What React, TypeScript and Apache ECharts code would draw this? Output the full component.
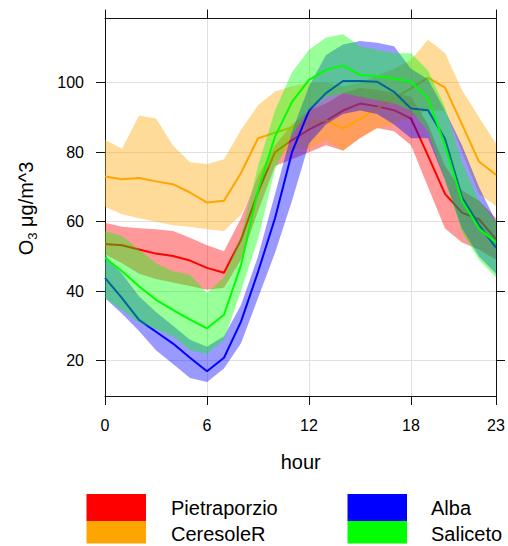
import React, { useEffect, useRef } from "react";
import * as echarts from "echarts";

const hours = [0, 1, 2, 3, 4, 5, 6, 7, 8, 9, 10, 11, 12, 13, 14, 15, 16, 17, 18, 19, 20, 21, 22, 23];
const xTicks = [0, 6, 12, 18, 23];
const yTicks = [20, 40, 60, 80, 100];

const pietraMean = [53.6, 53.2, 52.0, 50.8, 50.1, 48.8, 46.7, 45.3, 54.8, 68.5, 80.0, 83.5, 86.5, 89.0, 92.0, 94.0, 93.2, 92.1, 89.7, 79.0, 68.0, 62.6, 60.7, 55.0];
const pietraUpper = [59.7, 58.5, 58.1, 57.8, 57.3, 55.4, 53.2, 51.5, 61, 73, 82, 88, 92, 94, 97, 98.5, 98, 97, 96, 88, 76, 69, 66, 61];
const pietraLower = [50.6, 48, 45, 43.5, 42.5, 41.5, 40.4, 41, 49, 63, 76, 78, 80, 82, 80.5, 84, 87, 86, 82, 70, 58, 54, 52, 49];

const ceresMean = [73.0, 72.2, 72.6, 71.6, 70.8, 68.4, 65.5, 66.0, 74.0, 84.0, 85.6, 87.2, 88.4, 89.2, 86.8, 89.5, 92.6, 95.5, 98.4, 101.5, 98.6, 88, 77.3, 73.5];
const ceresUpper = [83.6, 81, 90.6, 89.7, 81.9, 77.1, 76.6, 78.0, 86.5, 93.5, 97.5, 99, 100, 100, 99, 100, 102, 104, 106.6, 112.4, 108.6, 97.9, 90.1, 82.4];
const ceresLower = [64.3, 62.1, 61, 60, 59, 58.5, 57.8, 57.3, 62, 72, 78, 81, 81, 83.4, 80.3, 84.3, 86.8, 88, 90, 92, 92, 80, 68, 64.5];

const albaMean = [43.8, 38, 31.7, 28.3, 24.9, 20.8, 16.9, 20.8, 31.2, 45.5, 61, 80, 92, 97, 100.5, 100.5, 100.3, 97.4, 92.6, 92.1, 83.9, 67, 59, 52.5];
const albaUpper = [50.5, 45, 38.5, 34, 30, 26, 24, 27, 36, 50, 68, 86, 99, 108, 111, 112, 111.5, 110.5, 104, 101, 92, 82, 70, 60];
const albaLower = [38, 33.5, 28.5, 23, 19, 15, 13.8, 17.7, 25, 38, 51, 66, 82.5, 88, 91, 92, 91, 88, 84, 84, 72, 58, 50, 45];

const saliMean = [49.6, 45.7, 41.4, 37.5, 34.6, 31.8, 29.3, 33.2, 47.5, 69, 84.5, 94.5, 100.8, 103.7, 105, 102.2, 101.9, 101.2, 100.3, 95.5, 82, 66, 58, 54];
const saliUpper = [57.3, 55.9, 52, 48, 45.7, 44.7, 39.5, 44, 56, 76, 92, 103, 109.5, 113, 114, 110.5, 109.5, 108.5, 108.5, 103.5, 93, 77, 66, 60];
const saliLower = [38, 34.5, 31, 29, 27, 23, 22, 26, 40, 55, 75, 85, 92, 96, 97, 96, 95, 94, 92, 86, 72, 57, 49, 44];

const siteNames = ["Pietraporzio", "CeresoleR", "Alba", "Saliceto"];
const siteColors = ["#FF0000", "#FFA500", "#0000FF", "#00FF00"];
const bandColors = ["rgba(255,0,0,0.4)", "rgba(255,165,0,0.4)", "rgba(0,0,255,0.4)", "rgba(0,255,0,0.4)"];

const FONT = "'Liberation Sans', Arial, sans-serif";

export default function App() {
  const ref = useRef<HTMLDivElement>(null);

  useEffect(() => {
    if (!ref.current) return;
    const chart = echarts.init(ref.current, undefined, { renderer: "svg" });

    const sites = [
      { mean: pietraMean, upper: pietraUpper, lower: pietraLower },
      { mean: ceresMean, upper: ceresUpper, lower: ceresLower },
      { mean: albaMean, upper: albaUpper, lower: albaLower },
      { mean: saliMean, upper: saliUpper, lower: saliLower },
    ];

    const series: any[] = [];
    sites.forEach((s, idx) => {
      series.push({
        type: "custom",
        name: siteNames[idx] + " band",
        silent: true,
        clip: true,
        z: 2 + idx * 2,
        xAxisIndex: 0,
        yAxisIndex: 0,
        data: [[0, s.mean[0]]],
        renderItem: (_params: any, api: any) => {
          const pts: number[][] = [];
          hours.forEach((h, i) => pts.push(api.coord([h, s.upper[i]])));
          for (let i = hours.length - 1; i >= 0; i--) pts.push(api.coord([hours[i], s.lower[i]]));
          return { type: "polygon", shape: { points: pts }, style: { fill: bandColors[idx] } };
        },
      });
      series.push({
        type: "line",
        name: siteNames[idx],
        z: 3 + idx * 2,
        xAxisIndex: 0,
        yAxisIndex: 0,
        symbol: "none",
        showSymbol: false,
        clip: true,
        silent: true,
        lineStyle: { color: siteColors[idx], width: 2 },
        data: hours.map((h, i) => [h, s.mean[i]]),
      });
    });

    const axisLineStyle = { color: "#111", width: 1 };
    const labelStyle = { color: "#000", fontSize: 16, fontFamily: FONT };

    const legendGraphics: any[] = [];
    const legendPos = [
      { bx: 86.5, tx: 171, row: 0 },
      { bx: 86.5, tx: 171, row: 1 },
      { bx: 347.5, tx: 431, row: 0 },
      { bx: 347.5, tx: 431, row: 1 },
    ];
    siteNames.forEach((name, i) => {
      const p = legendPos[i];
      const y = p.row === 0 ? 494 : 521;
      const h = p.row === 0 ? 27 : 22.5;
      legendGraphics.push({
        type: "rect",
        shape: { x: p.bx, y, width: 59.5, height: h },
        style: { fill: siteColors[i] },
      });
      legendGraphics.push({
        type: "text",
        x: p.tx,
        y: p.row === 0 ? 508 : 533.5,
        style: {
          text: name,
          fill: "#000",
          font: `20px ${FONT}`,
          textAlign: "left",
          textVerticalAlign: "middle",
        },
      });
    });

    chart.setOption({
      animation: false,
      backgroundColor: "#fff",
      grid: { left: 105, right: 12, top: 18.5, bottom: 150, containLabel: false },
      xAxis: [
        {
          type: "value",
          min: 0,
          max: 23,
          interval: 6,
          position: "bottom",
          axisLine: { show: true, onZero: false, lineStyle: axisLineStyle },
          axisTick: { show: true, inside: false, length: 9, lineStyle: axisLineStyle, customValues: xTicks },
          axisLabel: { ...labelStyle, margin: 21, customValues: xTicks, showMinLabel: true, showMaxLabel: true },
          splitLine: { show: true, lineStyle: { color: "#e0e0e0", width: 1 } },
        },
        {
          type: "value",
          min: 0,
          max: 23,
          interval: 6,
          position: "top",
          axisLine: { show: true, onZero: false, lineStyle: axisLineStyle },
          axisTick: { show: true, inside: false, length: 9, lineStyle: axisLineStyle, customValues: xTicks },
          axisLabel: { show: false },
          splitLine: { show: false },
        },
      ],
      yAxis: [
        {
          type: "value",
          min: 9.8,
          max: 118.5,
          position: "left",
          axisLine: { show: true, onZero: false, lineStyle: axisLineStyle },
          axisTick: { show: true, inside: false, length: 9, lineStyle: axisLineStyle, customValues: yTicks },
          axisLabel: { ...labelStyle, margin: 21, customValues: yTicks },
          splitLine: { show: true, lineStyle: { color: "#e0e0e0", width: 1 } },
        },
        {
          type: "value",
          min: 9.8,
          max: 118.5,
          position: "right",
          axisLine: { show: true, onZero: false, lineStyle: axisLineStyle },
          axisTick: { show: true, inside: false, length: 9, lineStyle: axisLineStyle, customValues: yTicks },
          axisLabel: { show: false, customValues: yTicks },
          splitLine: { show: false },
        },
      ],
      graphic: [
        {
          type: "text",
          x: 300.7,
          y: 461.7,
          style: {
            text: "hour",
            fill: "#000",
            font: `20px ${FONT}`,
            textAlign: "center",
            textVerticalAlign: "middle",
          },
        },
        {
          type: "text",
          x: 26,
          y: 208.5,
          rotation: Math.PI / 2,
          style: {
            text: "{n|O}{s|3}{n| μg/m^3}",
            fill: "#000",
            textAlign: "center",
            textVerticalAlign: "middle",
            rich: {
              n: { fontSize: 20, fontFamily: FONT, fill: "#000", lineHeight: 24, verticalAlign: "middle" },
              s: { fontSize: 13, fontFamily: FONT, fill: "#000", lineHeight: 24, verticalAlign: "middle", padding: [12, 0, 0, 0] },
            },
          },
        },
        ...legendGraphics,
      ],
      series,
    });

    return () => {
      chart.dispose();
    };
  }, []);

  return (
    <div
      ref={ref}
      style={{ position: "absolute", left: 0, top: 0, width: 508, height: 546 }}
    />
  );
}
